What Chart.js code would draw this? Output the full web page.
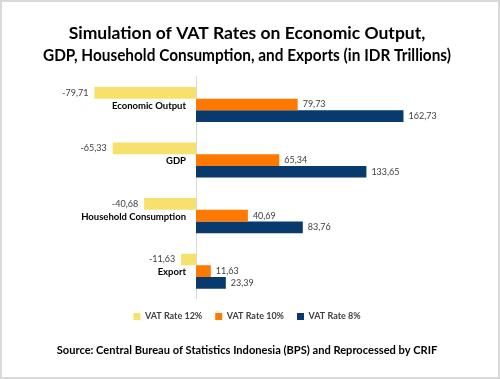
<!DOCTYPE html>
<html>
<head>
<meta charset="utf-8">
<script src="https://cdn.jsdelivr.net/npm/chart.js@4.4.1/dist/chart.umd.min.js"></script>
<style>
html,body{margin:0;padding:0;background:#fff;}
#wrap{position:relative;width:500px;height:379px;box-sizing:border-box;border:2px solid #d9d9d9;background:#fff;}
#inner{position:absolute;left:0;top:0;width:496px;height:375px;}
</style>
</head>
<body>
<div id="wrap"><div id="inner"><canvas id="c"></canvas></div></div>
<script>
const categories = ["Economic Output", "GDP", "Household Consumption", "Export"];
const seriesNames = ["VAT Rate 12%", "VAT Rate 10%", "VAT Rate 8%"];
const vat12 = [-79.71, -65.33, -40.68, -11.63];
const vat10 = [79.73, 65.34, 40.69, 11.63];
const vat8 = [162.73, 133.65, 83.76, 23.39];
const colors = ["#F8E06C", "#FF7800", "#083A6E"];

const FONT = "Lato, 'Open Sans', sans-serif";

const valueLabels = {
  id: 'valueLabels',
  afterDatasetsDraw(chart) {
    const ctx = chart.ctx;
    ctx.save();
    ctx.font = "9px " + FONT;
    ctx.fillStyle = "#404040";
    ctx.textBaseline = "middle";
    chart.data.datasets.forEach((ds, di) => {
      const meta = chart.getDatasetMeta(di);
      meta.data.forEach((bar, i) => {
        const v = ds.data[i];
        const txt = v.toFixed(2).replace('.', ',');
        if (v < 0) {
          ctx.textAlign = "right";
          ctx.fillText(txt, bar.x - 6, bar.y);
        } else {
          ctx.textAlign = "left";
          ctx.fillText(txt, bar.x + 5, bar.y);
        }
      });
    });
    const xs = chart.scales.x, ys = chart.scales.y;
    const x0 = xs.getPixelForValue(0);
    ctx.font = "bold 9.5px " + FONT;
    ctx.fillStyle = "#000";
    ctx.textAlign = "right";
    chart.data.labels.forEach((lab, i) => {
      ctx.fillText(lab, x0 - 10, ys.getPixelForValue(i) + 1);
    });
    ctx.restore();
  }
};

new Chart(document.getElementById('c'), {
  type: 'bar',
  data: {
    labels: categories,
    datasets: [
      { label: seriesNames[0], data: vat12, backgroundColor: colors[0] },
      { label: seriesNames[1], data: vat10, backgroundColor: colors[1] },
      { label: seriesNames[2], data: vat8, backgroundColor: colors[2] }
    ]
  },
  options: {
    indexAxis: 'y',
    responsive: true,
    maintainAspectRatio: false,
    animation: false,
    layout: { padding: { left: 41, right: 47, top: 0, bottom: 0 } },
    datasets: { bar: { categoryPercentage: 0.63, barPercentage: 1.0 } },
    scales: {
      x: { display: false, min: -120, max: 200 },
      y: {
        position: { x: 0 },
        grid: { display: false, drawTicks: false },
        border: { display: true, color: '#d9d9d9', width: 1 },
        ticks: { display: false }
      }
    },
    plugins: {
      title: {
        display: true,
        text: ["Simulation of VAT Rates on Economic Output,", "GDP, Household Consumption, and Exports (in IDR Trillions)"],
        color: '#000',
        font: { family: FONT, size: 17.5, weight: 'bold', lineHeight: 1.3 },
        padding: { top: 19.6, bottom: 9.6 }
      },
      legend: {
        position: 'bottom',
        labels: { boxWidth: 7, boxHeight: 7, color: '#404040', padding: 13, font: { family: FONT, size: 9, weight: 'bold' } }
      },
      subtitle: {
        display: true,
        position: 'bottom',
        text: "Source: Central Bureau of Statistics Indonesia (BPS) and Reprocessed by CRIF",
        color: '#000',
        font: { family: FONT, size: 11.1, weight: 'bold', lineHeight: 1.2 },
        padding: { top: 12.3, bottom: 20.4 }
      },
      tooltip: { enabled: false }
    }
  },
  plugins: [valueLabels]
});
</script>
</body>
</html>
